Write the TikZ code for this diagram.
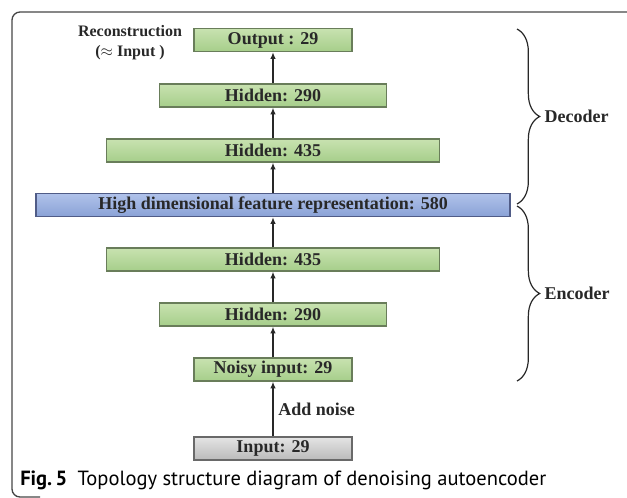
\documentclass[tikz,border=0pt]{standalone}
\usepackage{fontspec}
\setmainfont{Liberation Serif}
\newfontfamily\capfont{PT Sans}
\usetikzlibrary{arrows.meta,decorations.pathreplacing}
\definecolor{greentop}{RGB}{200,226,176}
\definecolor{greenbot}{RGB}{166,206,138}
\definecolor{greenedge}{RGB}{105,125,90}
\definecolor{bluetop}{RGB}{176,194,234}
\definecolor{bluebot}{RGB}{138,162,214}
\definecolor{blueedge}{RGB}{80,92,135}
\definecolor{greytop}{RGB}{228,228,228}
\definecolor{greybot}{RGB}{186,186,186}
\definecolor{greyedge}{RGB}{105,105,105}
\definecolor{inkgray}{RGB}{40,40,40}
\definecolor{framegray}{RGB}{70,70,70}

\begin{document}
\begin{tikzpicture}[x=0.75pt,y=-0.75pt,
  layer/.style={draw=greenedge,line width=0.9pt,top color=greentop,bottom color=greenbot,
    minimum height=17.25pt,inner sep=0pt,text=inkgray,font=\fontsize{13.5}{15}\selectfont\bfseries},
  codeblock/.style={layer,draw=blueedge,top color=bluetop,bottom color=bluebot},
  rawblock/.style={layer,draw=greyedge,top color=greytop,bottom color=greybot},
  flow/.style={-{Latex[length=5pt,width=4pt]},line width=1.3pt,draw=inkgray},
  side/.style={decorate,decoration={brace,amplitude=17pt},line width=0.9pt,draw=inkgray},
  tag/.style={text=inkgray,font=\fontsize{13.5}{15}\selectfont\bfseries}]

\clip (0,0) rectangle (627,497);
\draw[framegray,line width=1pt,rounded corners=6pt] (650,12) -- (12,12) -- (12,497) -- (40,497);

\node[rawblock,minimum width=118.5pt] (input) at (273,448.5) {Input: 29};
\node[layer,minimum width=118.5pt] (noisy) at (273,369.5) {Noisy input: 29};
\node[layer,minimum width=170.25pt] (enc290) at (273,314.5) {Hidden: 290};
\node[layer,minimum width=249.75pt] (enc435) at (273,259.5) {Hidden: 435};
\node[codeblock,minimum width=355.5pt] (code) at (273,205) {High dimensional feature representation: 580};
\node[layer,minimum width=249.75pt] (dec435) at (273,150.5) {Hidden: 435};
\node[layer,minimum width=170.25pt] (dec290) at (273,95.5) {Hidden: 290};
\node[layer,minimum width=118.5pt] (output) at (273,40) {Output : 29};

\begin{scope}[flow]
\draw (input) -- (noisy) node[midway,right,tag] {Add noise};
\draw (noisy) -- (enc290);
\draw (enc290) -- (enc435);
\draw (enc435) -- (code);
\draw (code) -- (dec435);
\draw (dec435) -- (dec290);
\draw (dec290) -- (output);
\end{scope}

\node[tag,font=\fontsize{12}{15}\selectfont\bfseries,align=center] (recon) at (130,43)
  {Reconstruction\\($\approx$ Input )};

\coordinate (dectop) at (517,29);
\coordinate (decbot) at (517,204);
\coordinate (enctop) at (517,206);
\coordinate (encbot) at (517,381);
\draw[side] (dectop) -- (decbot) node[midway,right=17pt,tag] {Decoder};
\draw[side] (enctop) -- (encbot) node[midway,right=17pt,tag] {Encoder};

\node[anchor=base west,inner sep=0pt,font=\capfont\fontsize{15.4}{17}\selectfont] (caption) at (20,485)
  {\textbf{Fig.\,5}\enspace Topology structure diagram of denoising autoencoder};

\end{tikzpicture}
\end{document}
